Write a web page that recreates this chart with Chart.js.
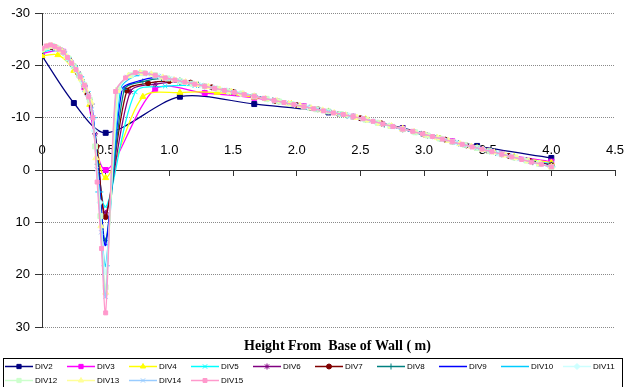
<!DOCTYPE html>
<html><head><meta charset="utf-8">
<script src="https://cdn.jsdelivr.net/npm/chart.js@4.4.1/dist/chart.umd.min.js"></script>
<style>html,body{margin:0;padding:0;background:#fff;}canvas{display:block;}</style>
</head><body>
<canvas id="c" width="625" height="387"></canvas>
<script>
const seriesNames = ['DIV2','DIV3','DIV4','DIV5','DIV6','DIV7','DIV8','DIV9','DIV10','DIV11','DIV12','DIV13','DIV14','DIV15'];
const xAxisTitle = 'Height From  Base of Wall ( m)';

const div2X = [0,0.25,0.5,1.083,1.667,2.25,2.833,3.417,4];
const div2Y = [-21.8,-12.8,-7.1,-14.0,-12.6,-11.0,-8.0,-4.6,-2.3];

const div3X = [0,0.167,0.333,0.5,0.889,1.278,1.667,2.056,2.444,2.833,3.222,3.611,4];
const div3Y = [-22.3,-22.6,-15.8,0.0,-15.5,-14.7,-13.8,-12.2,-10.2,-7.9,-5.5,-3.1,-1.6];

const div4X = [0,0.125,0.25,0.375,0.5,0.792,1.083,1.375,1.667,1.958,2.25,2.542,2.833,3.125,3.417,3.708,4];
const div4Y = [-21.8,-22.0,-19.0,-12.5,1.5,-14.0,-14.8,-14.8,-13.9,-12.6,-11.2,-9.7,-7.9,-6.0,-4.2,-2.5,-1.4];

const div5X = [0,0.1,0.2,0.3,0.4,0.5,0.733,0.967,1.2,1.433,1.667,1.9,2.133,2.367,2.6,2.833,3.067,3.3,3.533,3.767,4];
const div5Y = [-22.5,-23.0,-21.3,-17.6,-10.0,7.0,-14.9,-16.0,-16.1,-15.3,-14.2,-12.9,-11.7,-10.5,-9.3,-7.8,-6.4,-4.9,-3.4,-2.1,-1.2];

const div6X = [0,0.083,0.167,0.25,0.333,0.417,0.5,0.694,0.889,1.083,1.278,1.472,1.667,1.861,2.056,2.25,2.444,2.639,2.833,3.028,3.222,3.417,3.611,3.806,4];
const div6Y = [-22.8,-23.4,-22.6,-19.9,-16.0,-6.9,8.2,-15.0,-16.4,-16.8,-16.0,-15.0,-14.1,-13.1,-12.1,-11.1,-10.2,-9.0,-7.8,-6.6,-5.4,-4.2,-3.0,-1.9,-1.0];

const div7X = [0,0.071,0.143,0.214,0.286,0.357,0.429,0.5,0.667,0.833,1,1.167,1.333,1.5,1.667,1.833,2,2.167,2.333,2.5,2.667,2.833,3,3.167,3.333,3.5,3.667,3.833,4];
const div7Y = [-22.8,-23.5,-23.0,-21.1,-18.4,-14.5,-4.5,9.0,-15.2,-16.6,-17.0,-16.7,-15.8,-14.9,-14.1,-13.2,-12.4,-11.6,-10.7,-9.9,-8.9,-7.8,-6.8,-5.8,-4.7,-3.7,-2.7,-1.7,-0.9];

const div8X = [0,0.063,0.125,0.188,0.25,0.313,0.375,0.438,0.5,0.646,0.792,0.938,1.083,1.229,1.375,1.521,1.667,1.813,1.958,2.104,2.25,2.396,2.542,2.688,2.833,2.979,3.125,3.271,3.417,3.563,3.708,3.854,4];
const div8Y = [-22.9,-23.6,-23.2,-21.9,-19.8,-17.2,-13.5,-1.1,13.5,-15.4,-16.9,-17.5,-17.1,-16.3,-15.5,-14.8,-14.1,-13.3,-12.6,-11.9,-11.2,-10.4,-9.6,-8.7,-7.8,-6.9,-6.0,-5.1,-4.2,-3.3,-2.4,-1.5,-0.8];

const div9X = [0,0.056,0.111,0.167,0.222,0.278,0.333,0.389,0.444,0.5,0.630,0.759,0.889,1.019,1.148,1.278,1.407,1.537,1.667,1.796,1.926,2.056,2.185,2.315,2.444,2.574,2.704,2.833,2.963,3.093,3.222,3.352,3.481,3.611,3.741,3.870,4];
const div9Y = [-22.9,-23.6,-23.4,-22.5,-20.9,-18.7,-16.2,-12.6,0.7,14.3,-15.5,-17.0,-17.7,-17.4,-16.7,-16.0,-15.4,-14.7,-14.1,-13.4,-12.8,-12.1,-11.5,-10.8,-10.2,-9.4,-8.6,-7.8,-7.0,-6.2,-5.4,-4.6,-3.8,-3.0,-2.2,-1.4,-0.7];

const div10X = [0,0.05,0.1,0.15,0.2,0.25,0.3,0.35,0.4,0.45,0.5,0.617,0.733,0.85,0.967,1.083,1.2,1.317,1.433,1.55,1.667,1.783,1.9,2.017,2.133,2.25,2.367,2.483,2.6,2.717,2.833,2.95,3.067,3.183,3.3,3.417,3.533,3.65,3.767,3.883,4];
const div10Y = [-23.0,-23.6,-23.5,-22.8,-21.5,-19.8,-17.8,-15.0,-10.0,4.2,18.3,-15.5,-18.0,-18.3,-17.6,-17.0,-16.4,-15.8,-15.2,-14.7,-14.1,-13.5,-12.9,-12.3,-11.7,-11.2,-10.6,-10.0,-9.3,-8.6,-7.8,-7.1,-6.4,-5.7,-4.9,-4.2,-3.5,-2.7,-2.0,-1.3,-0.6];

const div11X = [0,0.045,0.091,0.136,0.182,0.227,0.273,0.318,0.364,0.409,0.455,0.5,0.606,0.712,0.818,0.924,1.030,1.136,1.242,1.348,1.455,1.561,1.667,1.773,1.879,1.985,2.091,2.197,2.303,2.409,2.515,2.621,2.727,2.833,2.939,3.045,3.152,3.258,3.364,3.470,3.576,3.682,3.788,3.894,4];
const div11Y = [-23.0,-23.6,-23.6,-23.0,-22.0,-20.6,-18.9,-16.8,-14.2,-7.5,6.2,19.5,-15.4,-18.2,-18.4,-17.9,-17.3,-16.7,-16.2,-15.7,-15.1,-14.6,-14.1,-13.5,-13.0,-12.5,-11.9,-11.4,-10.9,-10.4,-9.8,-9.1,-8.5,-7.8,-7.2,-6.5,-5.9,-5.2,-4.5,-3.9,-3.2,-2.6,-1.9,-1.3,-0.6];

const div12X = [0,0.042,0.083,0.125,0.167,0.208,0.25,0.292,0.333,0.375,0.417,0.458,0.5,0.597,0.694,0.792,0.889,0.986,1.083,1.181,1.278,1.375,1.472,1.569,1.667,1.764,1.861,1.958,2.056,2.153,2.25,2.347,2.444,2.542,2.639,2.736,2.833,2.931,3.028,3.125,3.222,3.319,3.417,3.514,3.611,3.708,3.806,3.903,4];
const div12Y = [-23.0,-23.5,-23.7,-23.2,-22.5,-21.3,-19.8,-18.1,-16.2,-13.4,-4.5,8.8,22.4,-15.3,-18.1,-18.5,-18.1,-17.5,-17.0,-16.5,-16.0,-15.5,-15.0,-14.6,-14.1,-13.6,-13.1,-12.6,-12.1,-11.6,-11.2,-10.7,-10.2,-9.6,-9.0,-8.4,-7.8,-7.2,-6.6,-6.0,-5.4,-4.8,-4.2,-3.6,-3.0,-2.4,-1.8,-1.2,-0.6];

const div13X = [0,0.038,0.077,0.115,0.154,0.192,0.231,0.269,0.308,0.346,0.385,0.423,0.462,0.5,0.590,0.679,0.769,0.859,0.949,1.038,1.128,1.218,1.308,1.397,1.487,1.577,1.667,1.756,1.846,1.936,2.026,2.115,2.205,2.295,2.385,2.474,2.564,2.654,2.744,2.833,2.923,3.013,3.103,3.192,3.282,3.372,3.462,3.551,3.641,3.731,3.821,3.910,4];
const div13Y = [-23.1,-23.6,-23.7,-23.4,-22.8,-21.7,-20.5,-19.1,-17.4,-15.2,-12.9,-2.3,10.7,23.4,-15.2,-18.0,-18.6,-18.3,-17.7,-17.2,-16.8,-16.3,-15.9,-15.4,-15.0,-14.5,-14.1,-13.6,-13.2,-12.7,-12.3,-11.8,-11.4,-10.9,-10.5,-10.0,-9.5,-8.9,-8.4,-7.8,-7.3,-6.7,-6.2,-5.6,-5.0,-4.5,-3.9,-3.4,-2.8,-2.3,-1.7,-1.2,-0.6];

const div14X = [0,0.036,0.071,0.107,0.143,0.179,0.214,0.25,0.286,0.321,0.357,0.393,0.429,0.464,0.5,0.583,0.667,0.75,0.833,0.917,1.0,1.083,1.167,1.25,1.333,1.417,1.5,1.583,1.667,1.75,1.833,1.917,2.0,2.083,2.167,2.25,2.333,2.417,2.5,2.583,2.667,2.75,2.833,2.917,3.0,3.083,3.167,3.25,3.333,3.417,3.5,3.583,3.667,3.75,3.833,3.917,4];
const div14Y = [-23.1,-23.6,-23.8,-23.5,-23.0,-22.2,-21.1,-19.8,-18.3,-16.6,-14.6,-11.6,-0.1,11.9,24.2,-15.0,-17.8,-18.6,-18.4,-17.9,-17.4,-17.0,-16.6,-16.2,-15.7,-15.3,-14.9,-14.5,-14.1,-13.7,-13.2,-12.8,-12.4,-12.0,-11.6,-11.2,-10.7,-10.3,-9.9,-9.4,-8.9,-8.3,-7.8,-7.3,-6.8,-6.3,-5.8,-5.2,-4.7,-4.2,-3.7,-3.2,-2.7,-2.1,-1.6,-1.1,-0.6];

const div15X = [0,0.033,0.067,0.1,0.133,0.167,0.2,0.233,0.267,0.3,0.333,0.367,0.4,0.433,0.467,0.5,0.578,0.656,0.733,0.811,0.889,0.967,1.044,1.122,1.2,1.278,1.356,1.433,1.511,1.589,1.667,1.744,1.822,1.9,1.978,2.056,2.133,2.211,2.289,2.367,2.444,2.522,2.6,2.678,2.756,2.833,2.911,2.989,3.067,3.144,3.222,3.3,3.378,3.456,3.533,3.611,3.689,3.767,3.844,3.922,4];
const div15Y = [-23.2,-23.7,-23.9,-23.6,-23.1,-22.5,-21.5,-20.4,-19.2,-17.8,-16.2,-14.0,-10.0,2.3,15.0,27.3,-15.0,-17.6,-18.6,-18.5,-18.1,-17.6,-17.2,-16.8,-16.4,-16.0,-15.6,-15.2,-14.8,-14.4,-14.1,-13.7,-13.3,-12.9,-12.5,-12.1,-11.7,-11.3,-10.9,-10.6,-10.2,-9.8,-9.3,-8.8,-8.3,-7.8,-7.4,-6.9,-6.4,-5.9,-5.4,-4.9,-4.4,-4.0,-3.5,-3.0,-2.5,-2.0,-1.5,-1.1,-0.6];

const seriesX = [div2X,div3X,div4X,div5X,div6X,div7X,div8X,div9X,div10X,div11X,div12X,div13X,div14X,div15X];
const seriesY = [div2Y,div3Y,div4Y,div5Y,div6Y,div7Y,div8Y,div9Y,div10Y,div11Y,div12Y,div13Y,div14Y,div15Y];

// styles
const seriesColors = ['#000080','#FF00FF','#FFFF00','#00FFFF','#800080','#800000','#008080','#0000FF','#00CCFF','#CCFFFF','#CCFFCC','#FFFF99','#99CCFF','#FF99CC'];
const seriesMarkers = ['rect','rect','triangle','crossRot','star','circle','cross','dash','line','rectRot','rect','triangle','crossRot','rect'];
const markerSizes = [3.5,3.5,3.5,3,3,2.5,3,3,4,3,3.5,3.5,3,2.8];

Chart.defaults.font.family = '"Liberation Sans", Arial, sans-serif';
Chart.defaults.color = '#000';

const datasets = seriesNames.map((name, i) => ({
  label: name,
  data: seriesX[i].map((x, j) => ({x: x, y: seriesY[i][j]})),
  borderColor: seriesColors[i],
  backgroundColor: seriesColors[i],
  pointBackgroundColor: seriesColors[i],
  pointBorderColor: seriesColors[i],
  borderWidth: 1.25,
  tension: 0.3,
  fill: false,
  pointStyle: seriesMarkers[i],
  pointRadius: markerSizes[i],
  pointBorderWidth: 1,
  order: seriesNames.length - 1 - i
}));

const boxLegend = {
  id: 'boxLegend',
  afterDraw(chart, args, o) {
    const ctx = chart.ctx;
    ctx.save();
    ctx.strokeStyle = '#000';
    ctx.lineWidth = 1;
    ctx.strokeRect(o.left + 0.5, o.top + 0.5, o.width, o.height);
    ctx.font = '8px "Liberation Sans", Arial, sans-serif';
    ctx.textBaseline = 'middle';
    ctx.textAlign = 'left';
    chart.data.datasets.forEach((ds, i) => {
      const col = i % o.perRow, row = Math.floor(i / o.perRow);
      const x0 = o.left + o.inset + col * o.colWidth;
      const y = o.top + o.firstRow + row * o.rowHeight;
      ctx.strokeStyle = ds.borderColor;
      ctx.lineWidth = 1.5;
      ctx.beginPath(); ctx.moveTo(x0, y); ctx.lineTo(x0 + o.lineLen, y); ctx.stroke();
      ctx.fillStyle = ds.pointBackgroundColor;
      ctx.strokeStyle = ds.pointBorderColor;
      ctx.lineWidth = 1;
      Chart.helpers.drawPoint(ctx, {pointStyle: ds.pointStyle, radius: Math.min(ds.pointRadius, 3), borderWidth: 1, rotation: 0}, x0 + o.lineLen / 2, y);
      ctx.fillStyle = '#000';
      ctx.fillText(ds.label, x0 + o.lineLen + o.gap, y);
    });
    ctx.restore();
  }
};

const shiftTitle = {
  id: 'shiftTitle',
  afterLayout(chart, args, o) {
    const t = chart.titleBlock;
    if (t) { t.left += o.dx; t.right += o.dx; }
  }
};

new Chart(document.getElementById('c'), {
  type: 'line',
  data: { datasets },
  plugins: [boxLegend, shiftTitle],
  options: {
    responsive: false,
    animation: false,
    devicePixelRatio: 1,
    layout: { padding: { left: 0, right: 10, top: 13, bottom: 32.6 } },
    plugins: {
      legend: { display: false },
      tooltip: { enabled: false },
      title: {
        display: true, text: xAxisTitle, position: 'bottom', fullSize: false, color: '#000',
        font: { family: '"Liberation Serif", "Times New Roman", serif', size: 14, weight: 'bold' },
        padding: { top: 10.6, bottom: 0 }
      },
      boxLegend: { left: 3, top: 358, width: 619, height: 40, perRow: 10, inset: 2, colWidth: 62, rowHeight: 14, firstRow: 8.5, lineLen: 28, gap: 2 },
      shiftTitle: { dx: 9 }
    },
    scales: {
      x: {
        type: 'linear', position: { y: 0 }, min: 0, max: 4.5,
        ticks: { stepSize: 0.5, autoSkip: false, maxRotation: 0, padding: -32, color: '#000', font: { size: 13 } },
        grid: { drawOnChartArea: false, drawTicks: true, tickLength: 5, tickColor: '#333' },
        border: { color: '#333', width: 1 }
      },
      y: {
        type: 'linear', reverse: true, min: -30, max: 30,
        ticks: { stepSize: 10, padding: 5, color: '#000', font: { size: 13 } },
        grid: {
          color: c => (c.tick && c.tick.value === 0) ? 'rgba(0,0,0,0)' : '#8a8a8a',
          tickColor: '#333', tickLength: 7, lineWidth: 1, tickBorderDash: []
        },
        border: { color: '#333', width: 1, dash: [1, 1] },
        afterFit: s => { s.width = 42; }
      }
    }
  }
});
</script>
</body></html>
